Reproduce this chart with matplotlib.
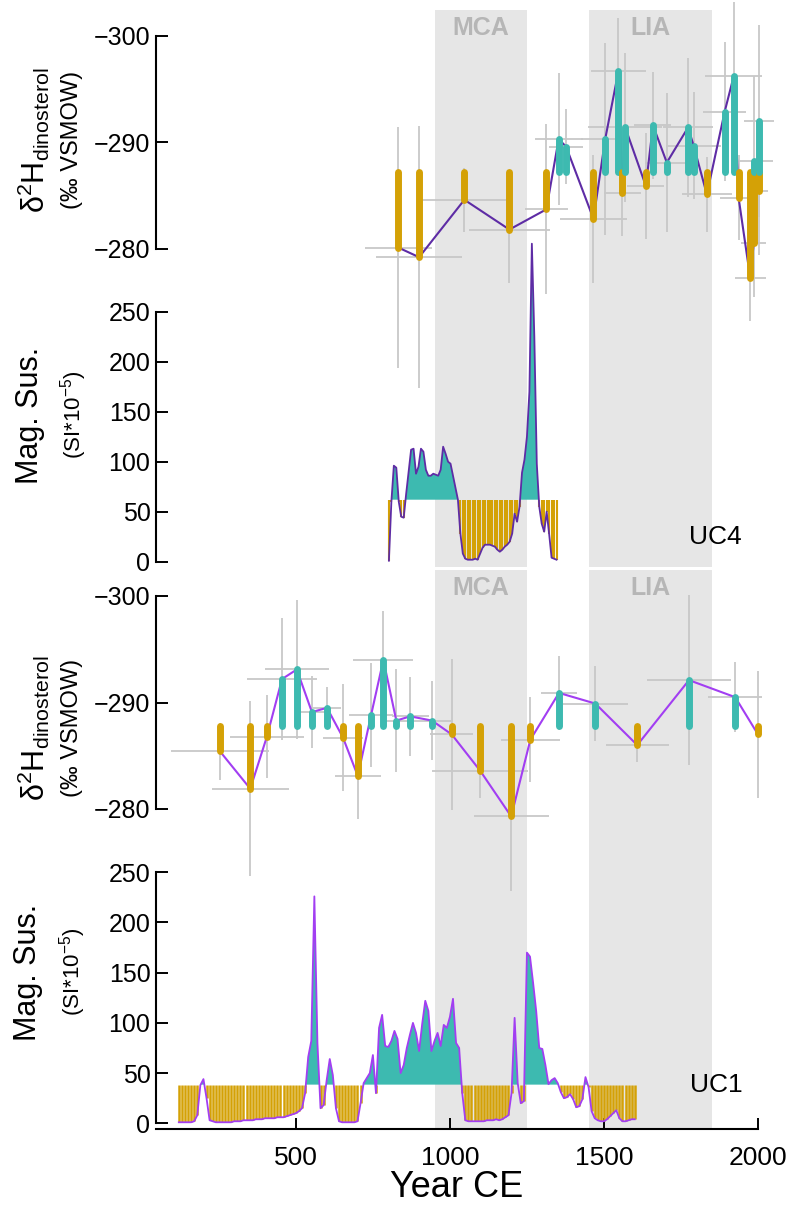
import matplotlib
matplotlib.use('Agg')
import matplotlib.pyplot as plt
import numpy as np

plt.rcParams['font.family'] = ['Liberation Sans', 'DejaVu Sans']
plt.rcParams['mathtext.fontset'] = 'custom'
plt.rcParams['mathtext.rm'] = 'Liberation Sans'
plt.rcParams['mathtext.it'] = 'Liberation Sans:italic'

GOLD = '#d4a106'
TEAL = '#3dbab0'
GREY = '#c8c8c8'
SHADE = '#e6e6e6'

# climate intervals
periods = ['MCA', 'LIA']
period_start = [950, 1450]
period_end = [1250, 1850]

# UC4 dinosterol d2H
uc4_year = [833, 900, 1047, 1193, 1313, 1353, 1377, 1466, 1504, 1547, 1560, 1569, 1636,
            1659, 1704, 1773, 1791, 1834, 1892, 1921, 1937, 1975, 1986, 1988, 2002, 2003]
uc4_d2h = [-280.1, -279.2, -284.6, -281.8, -283.7, -290.3, -289.6, -282.8, -290.3, -296.7,
           -285.2, -291.4, -285.9, -291.6, -288.1, -291.4, -289.7, -285.1, -292.9, -296.2,
           -284.8, -277.2, -280.5, -288.2, -285.4, -292.0]
uc4_age_err = [110, 139, 136, 132, 70, 78, 55, 109, 80, 89, 60, 120, 60,
               60, 70, 80, 90, 80, 70, 92, 60, 50, 40, 60, 30, 50]
uc4_d2h_err = [11.3, 12.3, 3, 5, 8, 6.2, 3.5, 6, 9, 5, 4, 7, 5,
               5, 6.5, 6.5, 5, 3.5, 6.5, 7, 4, 4, 5, 8, 6, 9]
uc4_d2h_mean = -287.2

# UC1 dinosterol d2H
uc1_year = [254, 352, 406, 455, 503, 552, 601, 653, 701, 744, 784, 826, 871, 942,
            1006, 1098, 1199, 1261, 1354, 1472, 1608, 1776, 1926, 2000]
uc1_d2h = [-285.4, -281.9, -286.8, -292.2, -293.1, -289.1, -289.5, -286.7, -283.1, -288.8,
           -294.0, -288.3, -288.7, -288.3, -287.0, -283.6, -279.3, -286.5, -290.9, -289.9,
           -286.0, -292.1, -290.5, -287.0]
uc1_age_err = [160, 125, 120, 115, 103, 45, 46, 65, 74, 72, 97, 45, 60, 60,
               70, 155, 122, 96, 58, 105, 102, 137, 88, 0]
uc1_d2h_err = [2.7, 8.2, 3.9, 5.7, 6.5, 3.4, 2, 5, 4, 4.9, 4.6, 4.8, 3.7, 3.7,
               7.1, 2.6, 7, 4, 3.5, 3.5, 1.6, 8, 3.3, 6]
uc1_d2h_mean = -287.8

# magnetic susceptibility (SI*10^-5)
uc4_ms_year = np.arange(802, 1347, 8)
uc4_ms = [1, 60, 96, 94, 60, 45, 44, 68, 90, 112,
          113, 88, 95, 113, 110, 92, 86, 86, 88, 87,
          86, 92, 115, 108, 100, 98, 86, 74, 62, 28,
          8, 3, 2, 2, 2, 3, 2, 8, 14, 17,
          17, 17, 16, 15, 12, 10, 12, 15, 17, 20,
          28, 48, 40, 55, 89, 102, 125, 170, 318, 225,
          98, 55, 38, 30, 50, 28, 4, 3, 2]
uc4_ms_mean = 62

uc1_ms_year = np.arange(120, 1601, 10)
uc1_ms = [1, 1, 1, 1, 1, 2, 8, 38, 44, 25,
          3, 2, 1, 1, 1, 1, 1, 1, 2, 2,
          2, 3, 3, 3, 3, 4, 4, 4, 5, 5,
          5, 5, 6, 6, 6, 7, 8, 9, 10, 12,
          15, 30, 66, 82, 226, 80, 15, 18, 43, 64,
          48, 15, 2, 1, 1, 1, 1, 1, 2, 20,
          40, 45, 50, 68, 30, 95, 108, 77, 76, 82,
          92, 84, 50, 58, 75, 88, 100, 90, 72, 99,
          122, 112, 72, 82, 90, 77, 98, 95, 106, 124,
          80, 75, 30, 3, 2, 2, 2, 2, 2, 2,
          3, 3, 3, 4, 3, 4, 6, 8, 30, 105,
          40, 20, 22, 170, 166, 140, 112, 75, 74, 58,
          39, 43, 45, 40, 31, 25, 26, 29, 24, 16,
          17, 24, 46, 36, 12, 5, 3, 2, 2, 4,
          7, 10, 13, 5, 2, 2, 3, 4, 4]
uc1_ms_mean = 38.5

W_PX, H_PX = 793, 1205
LEFT, RIGHT = 156, 758
XLIM = (46, 2000)

fig = plt.figure(figsize=(W_PX / 100, H_PX / 100), dpi=100)


def add_panel(top, bottom):
    ax = fig.add_axes([LEFT / W_PX, 1 - bottom / H_PX,
                       (RIGHT - LEFT) / W_PX, (bottom - top) / H_PX])
    ax.patch.set_visible(False)
    ax.set_xlim(*XLIM)
    return ax


def fig_text(x, y, s, **kw):
    fig.text(x / W_PX, 1 - y / H_PX, s, ha='center', va='center', **kw)


def shade(top, bottom):
    ax = add_panel(top, bottom)
    ax.set_axis_off()
    ax.set_ylim(0, 1)
    for name, a, b in zip(periods, period_start, period_end):
        ax.axvspan(a, b, color=SHADE, lw=0)
        ax.text((a + b) / 2, 1 - 18 / (bottom - top), name, ha='center', va='center',
                fontsize=18, fontweight='bold', color='#b6b6b6')


def style_panel(ax, ticks, bottom_axis=False):
    for s in ['top', 'right']:
        ax.spines[s].set_visible(False)
    ax.spines['left'].set_bounds(min(ticks), max(ticks))
    ax.spines['left'].set_linewidth(1.5)
    ax.set_yticks(ticks)
    ax.tick_params(axis='y', direction='in', length=8.5, width=1.4, labelsize=18, pad=4)
    if not bottom_axis:
        ax.spines['bottom'].set_visible(False)
        ax.set_xticks([])


def draw_d2h(ax, year, d2h, age_err, d2h_err, mean, line_color):
    eb = ax.errorbar(year, d2h, xerr=age_err, yerr=d2h_err, fmt='none', ecolor=GREY,
                     elinewidth=1.3, capsize=0, zorder=1)
    for lc in eb[2]:
        lc.set_clip_on(False)
    ax.plot(year, d2h, color=line_color, lw=1.5, zorder=2, clip_on=False)
    cols = [TEAL if v < mean else GOLD for v in d2h]
    ax.vlines(year, mean, d2h, colors=cols, lw=5, capstyle='round', zorder=3, clip_on=False)
    ax.set_ylim(-280, -300)
    style_panel(ax, [-300, -290, -280])


def draw_ms(ax, year, ms, mean, line_color, bar_width, ylim):
    ms = np.asarray(ms, float)
    low = ms < mean
    ax.vlines(year[low], ms[low], mean, colors=GOLD, lw=bar_width, zorder=2)
    ax.fill_between(year, mean, ms, where=ms >= mean, interpolate=True, color=TEAL,
                    lw=0, zorder=2, clip_on=False)
    ax.plot(year, ms, color=line_color, lw=1.3, zorder=3, clip_on=False)
    ax.set_ylim(*ylim)


shade(10, 567)
shade(570, 1129)

ax1 = add_panel(36, 248.7)
draw_d2h(ax1, uc4_year, uc4_d2h, uc4_age_err, uc4_d2h_err, uc4_d2h_mean, '#5e2ca5')

ax2 = add_panel(311.7, 561.7)
draw_ms(ax2, uc4_ms_year, uc4_ms, uc4_ms_mean, '#5e2ca5', 1.5, (0, 250))
style_panel(ax2, [0, 50, 100, 150, 200, 250])

ax3 = add_panel(596, 809)
draw_d2h(ax3, uc1_year, uc1_d2h, uc1_age_err, uc1_d2h_err, uc1_d2h_mean, '#a23ef2')

ax4 = add_panel(872.3, 1129)
draw_ms(ax4, uc1_ms_year, uc1_ms, uc1_ms_mean, '#a23ef2', 1.8, (-5.7, 250))
style_panel(ax4, [0, 50, 100, 150, 200, 250], bottom_axis=True)
ax4.spines['bottom'].set_linewidth(1.5)
ax4.set_xticks([500, 1000, 1500, 2000])
ax4.tick_params(axis='x', direction='in', length=8, width=1.4, labelsize=19, pad=12)
ax4.set_xlabel('Year CE', fontsize=26, labelpad=0)

# axis titles
dh_label = r'$\mathregular{δ^{2}H_{dinosterol}}$'
ms_units = r'(SI*10$\mathregular{^{-5}}$)'
fig_text(34, 140, dh_label, rotation=90, fontsize=22)
fig_text(72, 140, '(‰ VSMOW)', rotation=90, fontsize=17)
fig_text(30, 415, 'Mag. Sus.', rotation=90, fontsize=22)
fig_text(74, 415, ms_units, rotation=90, fontsize=16)
fig_text(34, 728, dh_label, rotation=90, fontsize=22)
fig_text(72, 728, '(‰ VSMOW)', rotation=90, fontsize=17)
fig_text(28, 972, 'Mag. Sus.', rotation=90, fontsize=22)
fig_text(73, 972, ms_units, rotation=90, fontsize=16)

fig_text(715, 537, 'UC4', fontsize=19)
fig_text(716, 1085, 'UC1', fontsize=19)

fig.savefig('out.png', dpi=100)
